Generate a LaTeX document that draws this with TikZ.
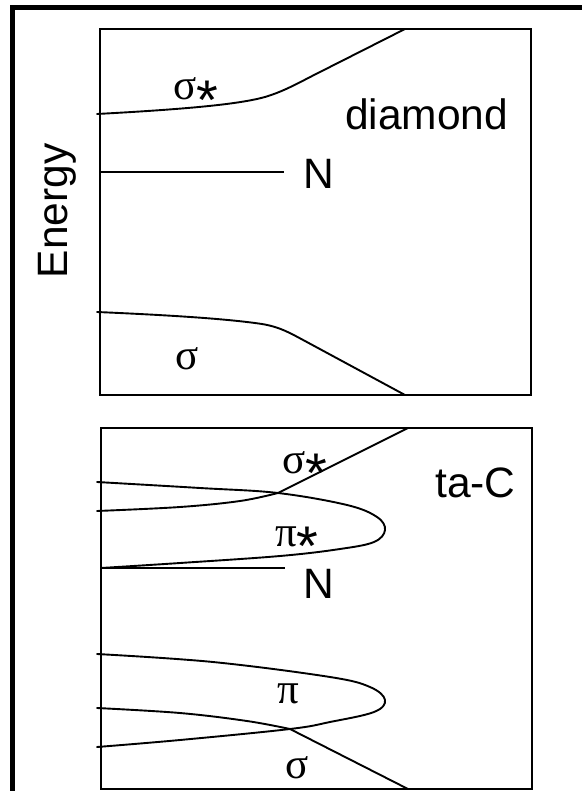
\documentclass[tikz,border=0pt]{standalone}
\usepackage{fontspec}
\usepackage{graphicx}
\setmainfont{Liberation Sans}
\newfontfamily\grk{Liberation Serif}
\newcommand\starmark{\raisebox{-0.45em}[0.5em][0pt]{\scalebox{1.3}{*}}}
\begin{document}
\begin{tikzpicture}[x=1pt,y=-1pt,
  outer/.style={line width=5pt},
  panel/.style={line width=2pt},
  band/.style={line width=1.9pt, line join=round, line cap=round},
  level/.style={line width=2.6pt},
  lbl/.style={inner sep=0pt, font=\fontsize{42.5}{50}\selectfont},
  glbl/.style={inner sep=0pt, font=\fontsize{43}{50}\selectfont}]
\useasboundingbox (0,0) rectangle (581,791);
% outer frame (left and top sides visible)
\draw[outer] (12.5,800) -- (12.5,7.5) -- (600,7.5);

% ---------- upper panel: diamond ----------
\draw[panel] (100,29) rectangle (531,395);
\draw[band] (97,114) .. controls (190,109) and (240,104) .. (265,97)
  .. controls (285,91) and (300,82) .. (320,72) -- (405,29);
\draw[band] (97,312) .. controls (190,316) and (235,320) .. (262,324)
  .. controls (280,327) and (290,333) .. (305,341) -- (405,395);
\coordinate (nd0) at (100,172);
\coordinate (nd1) at (284,172);
\draw[level] (nd0) -- (nd1);
\node[glbl, anchor=base west] (dsigstar) at (173,100) {{\grk σ}\starmark};
\node[lbl, anchor=base west] (diam) at (345,129.5) {diamond};
\node[lbl, anchor=base west] (dN) at (303,189) {N};
\node[glbl, anchor=base west] (dsig) at (175,369) {\grk σ};
\node[lbl, rotate=90, anchor=base] (energy) at (67,211) {Energy};

% ---------- lower panel: ta-C ----------
\draw[panel] (101,428) rectangle (532,789);
\coordinate (xu) at (278,493);
\coordinate (xl) at (290,729);
% sigma* band through upper crossing
\draw[band] plot[smooth, tension=0.6] coordinates {(97,511) (180,507) (240,501) (278,493)} -- (408,428);
% pi* loop
\draw[band] plot[smooth, tension=0.6] coordinates {(97,482) (200,488) (278,493) (347,505) (377,517) (385,530) (374,542) (340,549) (280,556) (180,563) (101,568)};
% N level
\coordinate (nt0) at (100,568);
\coordinate (nt1) at (285,568);
\draw[level] (nt0) -- (nt1);
% pi loop
\draw[band] plot[smooth, tension=0.6] coordinates {(97,654) (213,662) (330,677) (370,687) (385,700) (374,712) (330,722) (290,729) (180,740) (97,747)};
% sigma band through lower crossing
\draw[band] plot[smooth, tension=0.6] coordinates {(97,708) (180,713) (247,721) (290,729)} -- (408,789);

\node[glbl, anchor=base west] (tsigstar) at (282,473) {{\grk σ}\starmark};
\node[lbl, anchor=base west] (tac) at (435,497) {ta-C};
\node[glbl, anchor=base west] (tpistar) at (275,546) {{\grk π}\starmark};
\node[lbl, anchor=base west] (tN) at (303,598) {N};
\node[glbl, anchor=base west] (tpi) at (277,703) {\grk π};
\node[glbl, anchor=base west] (tsig) at (285,778) {\grk σ};
\end{tikzpicture}
\end{document}
